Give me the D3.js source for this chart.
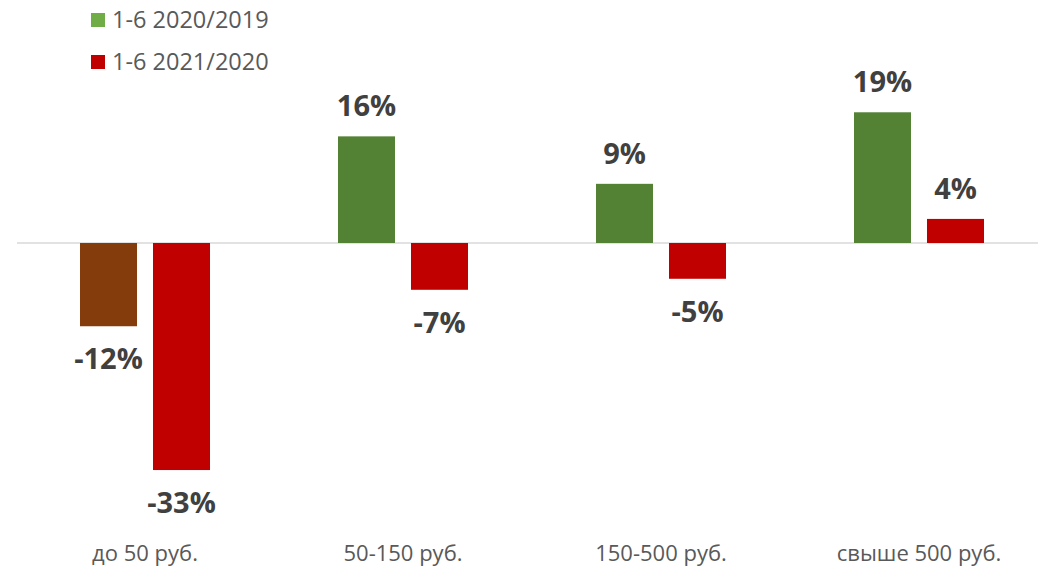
<!DOCTYPE html>
<html>
<head>
<meta charset="utf-8">
<script src="https://cdn.jsdelivr.net/npm/d3@7"></script>
<style>
  body { margin: 0; background: #fff; }
  text { font-family: "Open Sans", sans-serif; }
</style>
</head>
<body>
<script>
// data
var categories = ["до 50 руб.", "50-150 руб.", "150-500 руб.", "свыше 500 руб."];
var series = ["1-6 2020/2019", "1-6 2021/2020"];
var values2020 = [-12.1, 15.5, 8.6, 19.0];
var values2021 = [-33.0, -6.8, -5.2, 3.5];

var width = 1038,
    height = 571;

var green = "#548235",
    brown = "#843C0C",
    red = "#C00000",
    legend_green = "#70AD47";

var rows = categories.map(function(c, i) {
    return {cat: c, vals: [values2020[i], values2021[i]]};
});

var svg = d3.select("body").append("svg")
    .attr("width", width)
    .attr("height", height);

var x0 = d3.scaleBand()
    .domain(categories)
    .range([16, 1048])
    .padding(0);

var x1 = d3.scaleBand()
    .domain(series)
    .range([0, 130])
    .paddingInner(0.219)
    .paddingOuter(0);

var y = d3.scaleLinear()
    .domain([-35, 21])
    .range([243 + 35 * 6.88, 243 - 21 * 6.88]);

// zero line
svg.append("line")
    .attr("x1", 17)
    .attr("x2", width)
    .attr("y1", y(0))
    .attr("y2", y(0))
    .style("stroke", "#d9d9d9")
    .style("stroke-width", 1.5);

var groups = svg.selectAll(".grp")
    .data(rows)
    .enter().append("g")
    .attr("class", "grp")
    .attr("transform", function(d) {
        return "translate(" + (x0(d.cat) + (x0.bandwidth() - 130) / 2) + ",0)";
    });

var bars = groups.selectAll("g.bar")
    .data(function(d, gi) {
        return d.vals.map(function(v, si) { return {v: v, s: series[si], si: si, gi: gi}; });
    })
    .enter().append("g")
    .attr("class", "bar");

bars.append("rect")
    .attr("x", function(d) { return x1(d.s); })
    .attr("width", x1.bandwidth())
    .attr("y", function(d) { return Math.min(y(d.v), y(0)); })
    .attr("height", function(d) { return Math.abs(y(d.v) - y(0)); })
    .style("fill", function(d) {
        if (d.si == 1) { return red; }
        return d.v < 0 ? brown : green;
    });

bars.append("text")
    .attr("x", function(d) { return x1(d.s) + x1.bandwidth() / 2; })
    .attr("y", function(d) { return d.v >= 0 ? y(d.v) - 20 : y(d.v) + 43; })
    .attr("text-anchor", "middle")
    .attr("font-size", "29px")
    .attr("font-weight", "bold")
    .attr("fill", "#404040")
    .text(function(d) { return Math.round(d.v) + "%"; });

// category labels
var xAxis = svg.append("g")
    .attr("transform", "translate(0,561)");

xAxis.selectAll("text")
    .data(categories)
    .enter().append("text")
    .attr("x", function(d) { return x0(d) + x0.bandwidth() / 2; })
    .attr("text-anchor", "middle")
    .attr("font-size", "22px")
    .attr("fill", "#595959")
    .text(function(d) { return d; });

// legend
var legend = svg.append("g");
var leg_cols = [legend_green, red];
var leg_y = [20, 62];

series.forEach(function(s, i) {
    legend.append("rect")
        .attr("x", 91)
        .attr("y", leg_y[i] - 7)
        .attr("width", 14)
        .attr("height", 14)
        .style("fill", leg_cols[i]);
    legend.append("text")
        .attr("x", 112)
        .attr("y", leg_y[i] + 8)
        .attr("font-size", "23.5px")
        .attr("fill", "#595959")
        .text(s);
});
</script>
</body>
</html>
